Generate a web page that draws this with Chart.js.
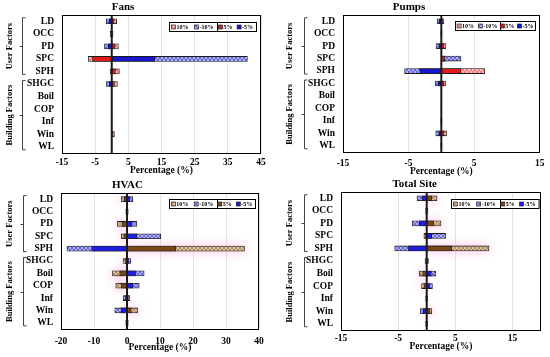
<!DOCTYPE html>
<html><head><meta charset="utf-8">
<script src="https://cdn.jsdelivr.net/npm/chart.js@4.4.1/dist/chart.umd.min.js"></script>
<style>
body{margin:0;background:#fff;width:550px;height:357px;position:relative;overflow:hidden}
canvas{position:absolute}
</style></head><body>
<canvas id="c1" width="275" height="178" style="left:0;top:0"></canvas>
<canvas id="c2" width="275" height="178" style="left:275px;top:0"></canvas>
<canvas id="c3" width="275" height="179" style="left:0;top:178px"></canvas>
<canvas id="c4" width="275" height="179" style="left:275px;top:178px"></canvas>
<script>
// ---------- data ----------
const categories = ['LD','OCC','PD','SPC','SPH','SHGC','Boil','COP','Inf','Win','WL'];
const seriesLabels = ['10%','-10%','5%','-5%'];
const groupNames = ['User Factors','Building Factors'];
const groupRanges = [[0,4],[5,10]];
const axisTitle = 'Percentage (%)';

const fansTitle = 'Fans';
const fansTicks = [-15,-5,5,15,25,35,45];
const fansP10 = [1.5, 0.4, 2.0, -7.1, 2.3, 1.7, 0, 0, 0.1, 0.8, 0];
const fansN10 = [-1.7,-0.5,-2.2, 40.9,-0.5,-1.7, 0, 0,-0.1,-0.1, 0];
const fansP5  = [0.7, 0.2, 1.0, -5.8, 1.1, 0.8, 0, 0, 0.05, 0.4, 0];
const fansN5  = [-0.8,-0.3,-1.1, 13.0,-0.3,-0.8, 0, 0,-0.05,-0.05, 0];

const pumpsTitle = 'Pumps';
const pumpsTicks = [-15,-5,5,15];
const pumpsP10 = [0.4, 0.1, 0.7, 0.7, 6.6, 0.7, 0, 0.05, 0.1, 0.8, 0.1];
const pumpsN10 = [-0.65,-0.1,-0.8, 3.0,-5.6,-0.95, 0,-0.05,-0.1,-0.85,-0.1];
const pumpsP5  = [0.2, 0.05, 0.35, 0.5, 3.0, 0.35, 0, 0.02, 0.05, 0.4, 0.05];
const pumpsN5  = [-0.35,-0.05,-0.4, 0.15,-3.3,-0.5, 0,-0.02,-0.05,-0.4,-0.05];

const hvacTitle = 'HVAC';
const hvacTicks = [-20,-10,0,10,20,30,40];
const hvacP10 = [-1.7, 0.4,-2.9,-1.7, 35.6,-1.2,-4.4,-3.4, 0.9, 3.2, 0.4];
const hvacN10 = [1.75,-0.4, 3.0, 10.2,-18.2, 1.1, 5.2, 3.7,-1.1,-3.7,-0.4];
const hvacP5  = [-0.8, 0.2,-1.5,-1.0, 14.8,-0.6,-2.2,-1.7, 0.45, 1.3, 0.2];
const hvacN5  = [0.8,-0.2, 1.5, 3.0,-10.7, 0.55, 2.6, 1.8,-0.55,-1.8,-0.2];

const siteTitle = 'Total Site';
const siteTicks = [-15,-5,5,15];
const siteP10 = [1.8, 0.2, 2.5,-0.5, 10.9, 0.3,-1.3,-0.9, 0.2, 0.9, 0.2];
const siteN10 = [-1.7,-0.2,-2.5, 3.3,-5.6,-0.3, 1.6, 1.0,-0.2,-1.1,-0.2];
const siteP5  = [0.9, 0.1, 1.2,-0.3, 4.4, 0.15,-0.7,-0.5, 0.1, 0.5, 0.1];
const siteN5  = [-0.8,-0.1,-1.3, 0.9,-3.2,-0.15, 0.8, 0.5,-0.1,-0.6,-0.1];

// ---------- styling ----------
const FONT = "'Liberation Serif','Times New Roman',serif";
Chart.defaults.color = '#000';
Chart.defaults.font.family = FONT;

function hatch(base){
  const c = document.createElement('canvas'); c.width = 4; c.height = 4;
  const g = c.getContext('2d');
  g.fillStyle = base; g.fillRect(0,0,4,4);
  g.fillStyle = 'rgba(255,255,255,0.5)';
  [[0,0],[1,1],[2,2],[3,3],[3,0],[2,1],[1,2],[0,3]].forEach(([x,y]) => g.fillRect(x,y,1,1));
  return g.createPattern(c,'repeat');
}
const redSet  = [hatch('#ef7878'), hatch('#6464dc'), '#e41a1a', '#1616cc'];
const brownSet = [hatch('#b48c5e'), hatch('#6666dc'), '#7a4818', '#1e1ee0'];

const panelPlugin = {
  id: 'panelDeco',
  beforeDatasetsDraw(chart){
    const cfg = chart.options.plugins.panelDeco;
    if (!cfg.glow) return;
    const ctx = chart.ctx, meta = chart.getDatasetMeta(0);
    ctx.save();
    ctx.beginPath(); ctx.rect(chart.chartArea.left, chart.chartArea.top, chart.chartArea.right-chart.chartArea.left, chart.chartArea.bottom-chart.chartArea.top); ctx.clip();
    ctx.shadowColor = 'rgba(250,170,215,0.55)';
    ctx.shadowBlur = 9;
    ctx.shadowOffsetX = 2000;
    ctx.fillStyle = '#000';
    meta.data.forEach(el => {
      const {x, y, base, height} = el.getProps(['x','y','base','height'], true);
      const l = Math.min(x, base), w = Math.abs(x - base);
      if (w < 3) return;
      ctx.fillRect(l - 2000 - 1, y - height/2 - 2, w + 2, height + 4);
    });
    ctx.restore();
  },
  afterDatasetsDraw(chart){
    const ctx = chart.ctx, a = chart.chartArea, xs = chart.scales.x;
    ctx.save();
    const x0 = xs.getPixelForValue(0);
    ctx.strokeStyle = '#1a1a1a'; ctx.lineWidth = 2;
    ctx.beginPath(); ctx.moveTo(x0, a.top); ctx.lineTo(x0, a.bottom); ctx.stroke();
    ctx.lineWidth = 1; ctx.strokeStyle = '#000';
    ctx.strokeRect(Math.round(a.left)+0.5, Math.round(a.top)+0.5, Math.round(a.right-a.left)-1, Math.round(a.bottom-a.top));
    ctx.restore();
  },
  afterDraw(chart){
    const cfg = chart.options.plugins.panelDeco;
    const ctx = chart.ctx, a = chart.chartArea, ys = chart.scales.y;
    ctx.save();
    // title
    ctx.font = 'bold 11px ' + FONT; ctx.fillStyle = '#000';
    ctx.textAlign = 'center'; ctx.textBaseline = 'middle';
    ctx.fillText(cfg.title, cfg.titleX, cfg.titleY);
    // group brackets
    ctx.strokeStyle = '#444'; ctx.lineWidth = 1;
    groupRanges.forEach((r, i) => {
      const yT = ys.getPixelForValue(r[0]) - 3.5, yB = ys.getPixelForValue(r[1]) + 3;
      const bx = Math.round(cfg.bracketX) + 0.5, ym = Math.round((yT + yB)/2) + 0.5;
      ctx.beginPath();
      ctx.moveTo(bx + 3, yT); ctx.lineTo(bx, yT); ctx.lineTo(bx, yB); ctx.lineTo(bx + 3, yB);
      ctx.moveTo(bx, ym); ctx.lineTo(bx - 3, ym);
      ctx.stroke();
      ctx.save();
      ctx.translate(cfg.groupTextX, (yT + yB)/2);
      ctx.rotate(-Math.PI/2);
      ctx.font = 'bold 8.5px ' + FONT;
      ctx.fillText(groupNames[i], 0, 0);
      ctx.restore();
    });
    // legend box
    const L = cfg.legend;
    const w = L.w, h = 9, bx = Math.round(a.right - L.rOff - w) + 0.5, by = Math.round(a.top + L.tOff) + 0.5;
    ctx.fillStyle = '#fff'; ctx.fillRect(bx, by, w, h);
    ctx.strokeStyle = '#000'; ctx.lineWidth = 1; ctx.strokeRect(bx, by, w, h);
    const div = Math.round(bx + w*0.55) + 0.5;
    ctx.beginPath(); ctx.moveTo(div, by); ctx.lineTo(div, by + h); ctx.stroke();
    const pos = [0.045, 0.31, 0.585, 0.80];
    ctx.font = 'bold 6px ' + FONT; ctx.textAlign = 'left'; ctx.textBaseline = 'middle';
    chart.data.datasets.forEach((ds, i) => {
      const mx = bx + w*pos[i];
      ctx.fillStyle = ds.backgroundColor;
      ctx.fillRect(mx - 2, by + h/2 - 2, 4, 4);
      ctx.strokeStyle = '#222'; ctx.lineWidth = 0.7;
      ctx.strokeRect(mx - 2, by + h/2 - 2, 4, 4);
      ctx.fillStyle = '#000';
      ctx.fillText(ds.label, mx + 3, by + h/2 + 0.5);
    });
    ctx.restore();
  }
};

function makePanel(id, title, ticks, min, max, p10, n10, p5, n5, colors, cfg){
  const canvas = document.getElementById(id);
  const H = canvas.height, W = canvas.width;
  const vals = [p10, n10, p5, n5];
  const orders = [3, 2, 0, 1];
  const lh = 9.5 * 1.2;
  new Chart(canvas, {
    type: 'bar',
    data: {
      labels: categories,
      datasets: seriesLabels.map((lab, i) => ({
        label: lab, data: vals[i], backgroundColor: colors[i],
        borderColor: '#1a1a1a', borderWidth: 0.8, borderSkipped: false,
        grouped: false, barThickness: 5, order: orders[i]
      }))
    },
    options: {
      indexAxis: 'y', responsive: false, animation: false, devicePixelRatio: 1,
      layout: { padding: { left: 0, right: W - cfg.area.r, top: cfg.area.t, bottom: 0 } },
      plugins: {
        legend: { display: false }, tooltip: { enabled: false }, title: { display: false },
        panelDeco: Object.assign({ title }, cfg)
      },
      scales: {
        x: {
          type: 'linear', min, max,
          afterBuildTicks: s => { s.ticks = ticks.map(v => ({ value: v })); },
          afterFit: s => { s.height = H - cfg.area.b; },
          grid: { color: '#dcdcdc', lineWidth: 0.8, drawTicks: false },
          border: { display: false },
          ticks: { font: { size: 9.5, weight: 'bold' }, padding: cfg.tickY - cfg.area.b - lh/2, maxRotation: 0, autoSkip: false },
          title: { display: true, text: axisTitle, font: { size: 9.5, weight: 'bold' }, padding: { top: 0, bottom: H - cfg.axisY - lh/2 } }
        },
        y: {
          type: 'category',
          afterFit: s => { s.width = cfg.area.l; },
          grid: { display: false, drawTicks: false },
          border: { display: false },
          ticks: { font: { size: 9.5, weight: 'bold' }, padding: 8, autoSkip: false }
        }
      }
    },
    plugins: [panelPlugin]
  });
}

makePanel('c1', fansTitle, fansTicks, -15, 45, fansP10, fansN10, fansP5, fansN5, redSet,
  { area:{l:62,r:261,t:15,b:153}, titleX:123, titleY:7, tickY:163, axisY:171, bracketX:22, groupTextX:10, legend:{w:87,rOff:5,tOff:7}, glow:false });
makePanel('c2', pumpsTitle, pumpsTicks, -15, 15, pumpsP10, pumpsN10, pumpsP5, pumpsN5, redSet,
  { area:{l:68,r:266,t:15,b:152}, titleX:134, titleY:7.3, tickY:163.3, axisY:171.7, bracketX:29, groupTextX:15, legend:{w:80,rOff:5,tOff:6}, glow:false });
makePanel('c3', hvacTitle, hvacTicks, -20, 40, hvacP10, hvacN10, hvacP5, hvacN5, brownSet,
  { area:{l:61,r:259,t:15,b:151}, titleX:127.5, titleY:6.7, tickY:163.3, axisY:169.3, bracketX:22.7, groupTextX:10, legend:{w:86,rOff:4.5,tOff:6}, glow:true });
makePanel('c4', siteTitle, siteTicks, -15, 20, siteP10, siteN10, siteP5, siteN5, brownSet,
  { area:{l:66,r:266,t:14,b:152}, titleX:139.7, titleY:6, tickY:160.7, axisY:168.3, bracketX:29.3, groupTextX:15, legend:{w:87.6,rOff:2.5,tOff:6.7}, glow:true });
</script>
</body></html>
